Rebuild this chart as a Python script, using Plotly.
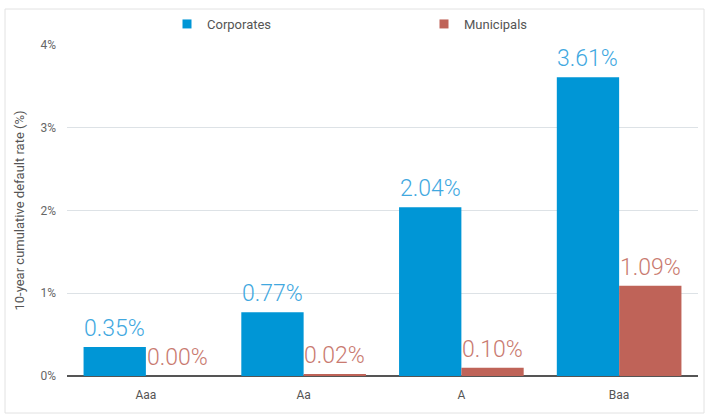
import plotly.graph_objects as go

categories = ["Aaa", "Aa", "A", "Baa"]
corporates = [0.35, 0.77, 2.04, 3.61]
municipals = [0.00, 0.02, 0.10, 1.09]
y_ticks = [0, 1, 2, 3, 4]
y_tick_labels = ["0%", "1%", "2%", "3%", "4%"]

W, H = 711, 420
L, R, T, B = 67, 13, 45, 44
pw, ph = W - L - R, H - T - B
BARGAP = 0.21

def px_x(x):
    return (x - L) / pw

def px_y(y):
    return (H - B - y) / ph

FONT = "Roboto"
COL_C, COL_M = "#0096D6", "#BF6358"
TXT_C, TXT_M = "#41A8DF", "#C97A70"

fig = go.Figure()
fig.add_trace(go.Bar(
    name="Corporates", x=categories, y=corporates,
    marker=dict(color=COL_C, line=dict(width=0)), showlegend=False,
))
fig.add_trace(go.Bar(
    name="Municipals", x=categories, y=municipals,
    marker=dict(color=COL_M, line=dict(width=0)), showlegend=False,
))
# legend entries with small square swatches
fig.add_trace(go.Scatter(
    name="Corporates", x=[None], y=[None], mode="markers",
    marker=dict(symbol="square", size=9, color=COL_C), legend="legend",
))
fig.add_trace(go.Scatter(
    name="Municipals", x=[None], y=[None], mode="markers",
    marker=dict(symbol="square", size=9, color=COL_M), legend="legend2",
))

# value labels above each bar
cat_px = pw / len(categories)
half = cat_px * (1 - BARGAP) / 4
for vals, col, sh in ((corporates, TXT_C, -half), (municipals, TXT_M, half)):
    for c, v in zip(categories, vals):
        fig.add_annotation(
            x=c, y=v, xref="x", yref="y", text=f"{v:.2f}%", showarrow=False,
            xshift=sh, yshift=3, yanchor="bottom", xanchor="center",
            font=dict(size=23, color=col, family=FONT, weight=300),
        )

leg_common = dict(
    orientation="h", yanchor="middle", xanchor="left",
    font=dict(size=13, color="#555555"), itemwidth=30,
    bgcolor="rgba(0,0,0,0)",
)
fig.update_layout(
    width=W, height=H,
    margin=dict(l=L, r=R, t=T, b=B, autoexpand=False),
    paper_bgcolor="white", plot_bgcolor="white",
    barmode="group", bargap=BARGAP, bargroupgap=0,
    font=dict(family=FONT, color="#555555"),
    showlegend=True,
    legend=dict(x=px_x(167), y=px_y(24), **leg_common),
    legend2=dict(x=px_x(424), y=px_y(24), **leg_common),
)
fig.update_xaxes(
    showgrid=False, ticks="", showline=False,
    tickfont=dict(size=12, color="#555555"), ticklabelstandoff=10,
)
fig.update_yaxes(
    range=[0, 4], tickvals=y_ticks, ticktext=y_tick_labels,
    showgrid=True, gridcolor="#DDE2E6", gridwidth=1,
    zeroline=True, zerolinecolor="#555555", zerolinewidth=2,
    tickfont=dict(size=12, color="#666666"), ticklabelstandoff=10,
    title=dict(text="10-year cumulative default rate (%)", font=dict(size=13, color="#555555"), standoff=12),
    showline=False, ticks="", automargin=False,
)
fig.add_shape(
    type="rect", xref="paper", yref="paper",
    x0=px_x(5), x1=px_x(704), y0=px_y(413), y1=px_y(9),
    line=dict(color="#E2E2E2", width=1), fillcolor="rgba(0,0,0,0)", layer="below",
)
fig.write_html("out.html", config={"displayModeBar": False},
               post_script="document.body.style.margin='0';")
